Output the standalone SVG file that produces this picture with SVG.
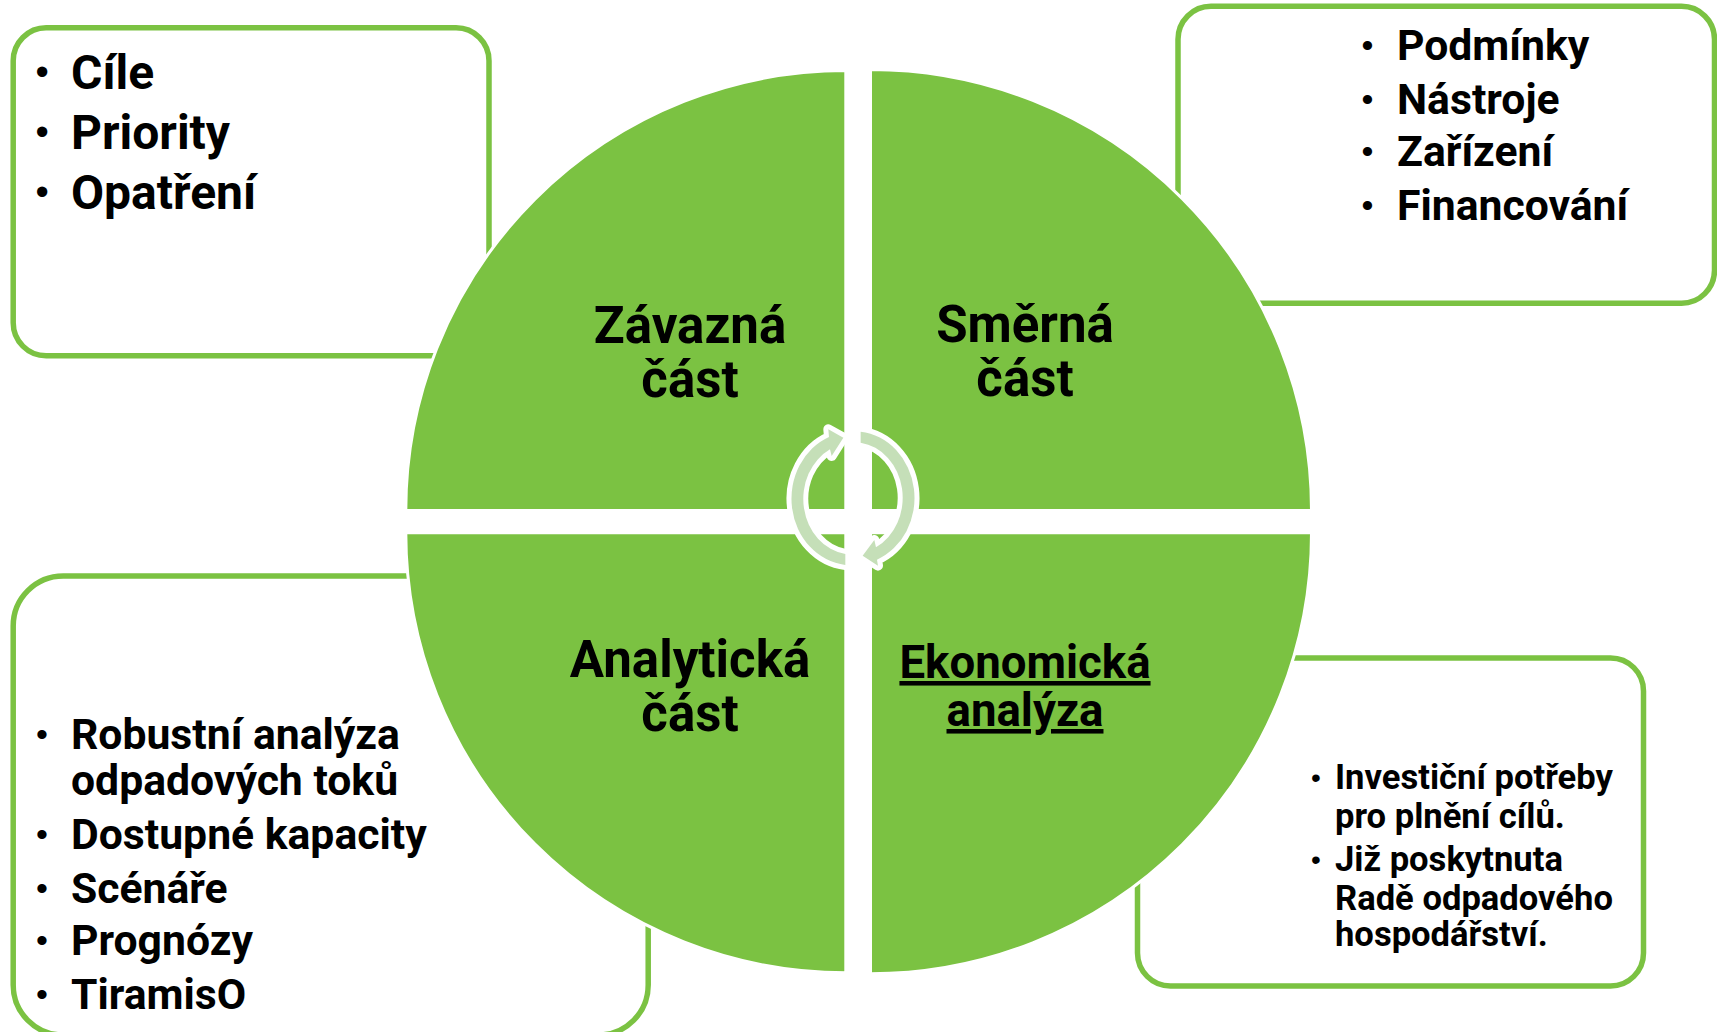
<svg xmlns="http://www.w3.org/2000/svg" width="1717" height="1032" viewBox="0 0 1717 1032">
<style>
text{font-family:Roboto,"Liberation Sans",sans-serif;font-weight:700;fill:#000}
.box{fill:#fff;stroke:#7bc242;stroke-width:5.5}
.quad{fill:#7bc242;stroke:#fff;stroke-width:3}
.b48{font-size:48px}.b42{font-size:42.7px}.b36{font-size:34.6px}
.c51{font-size:51px;text-anchor:middle}
.c46{font-size:45.6px;text-anchor:middle;text-decoration:underline}
.d48{font-size:38px}.d42{font-size:34px}.d36{font-size:28px}
.dot{font-family:"Liberation Sans",sans-serif;font-weight:400}
.arr{fill:#c5dfb8;stroke:#fff;stroke-width:30;paint-order:stroke;stroke-linejoin:round}
</style>
<rect width="1717" height="1032" fill="#fff"/>
<g id="box-cile">
<rect class="box" x="13.2" y="27.8" width="475.8" height="328" rx="33"/>
<text class="d48 dot" x="35.6" y="85">•</text><text class="b48" x="71" y="89">Cíle</text>
<text class="d48 dot" x="35.6" y="145">•</text><text class="b48" x="71" y="149">Priority</text>
<text class="d48 dot" x="35.6" y="205">•</text><text class="b48" x="71" y="209">Opatření</text>
</g>
<g id="box-podminky">
<rect class="box" x="1178" y="6.3" width="536.5" height="297" rx="33"/>
<text class="d42 dot" x="1361.6" y="57">•</text><text class="b42" x="1397" y="60">Podmínky</text>
<text class="d42 dot" x="1361.6" y="111">•</text><text class="b42" x="1397" y="114">Nástroje</text>
<text class="d42 dot" x="1361.6" y="163">•</text><text class="b42" x="1397" y="166">Zařízení</text>
<text class="d42 dot" x="1361.6" y="217">•</text><text class="b42" x="1397" y="220">Financování</text>
</g>
<g id="box-robustni">
<rect class="box" x="13.2" y="576" width="635" height="459" rx="50"/>
<text class="d42 dot" x="36" y="746">•</text><text class="b42" x="71" y="749">Robustní analýza</text>
<text class="b42" x="71" y="795">odpadových toků</text>
<text class="d42 dot" x="36" y="846">•</text><text class="b42" x="71" y="849">Dostupné kapacity</text>
<text class="d42 dot" x="36" y="900">•</text><text class="b42" x="71" y="903">Scénáře</text>
<text class="d42 dot" x="36" y="952">•</text><text class="b42" x="71" y="955">Prognózy</text>
<text class="d42 dot" x="36" y="1006">•</text><text class="b42" x="71" y="1009">TiramisO</text>
</g>
<g id="box-investicni">
<rect class="box" x="1137.5" y="658" width="506" height="328" rx="33"/>
<text class="d36 dot" x="1311" y="787">•</text><text class="b36" x="1335" y="789">Investiční potřeby</text>
<text class="b36" x="1335" y="828">pro plnění cílů.</text>
<text class="d36 dot" x="1311" y="869">•</text><text class="b36" x="1335" y="871">Již poskytnuta</text>
<text class="b36" x="1335" y="910">Radě odpadového</text>
<text class="b36" x="1335" y="946">hospodářství.</text>
</g>
<g id="quad-zavazna">
<path class="quad" d="M845.8,510.5 H405.8 A440,440 0 0 1 845.8,70.5 Z"/>
<text class="c51" x="690" y="343">Závazná</text><text class="c51" x="690" y="397">část</text>
</g>
<g id="quad-smerna">
<path class="quad" d="M870.5,510.5 V69.5 A441,441 0 0 1 1311.5,510.5 Z"/>
<text class="c51" x="1025" y="342">Směrná</text><text class="c51" x="1025" y="396">část</text>
</g>
<g id="quad-analyticka">
<path class="quad" d="M845.8,532.8 V972.8 A440,440 0 0 1 405.8,532.8 Z"/>
<text class="c51" x="690" y="677">Analytická</text><text class="c51" x="690" y="731">část</text>
</g>
<g id="quad-ekonomicka">
<path class="quad" d="M870.5,532.8 H1311.5 A441,441 0 0 1 870.5,973.8 Z"/>
<text class="c46" x="1025" y="678">Ekonomická</text>
<text class="c46" x="1025" y="726">analýza</text>
</g>
<g id="connectors" transform="translate(760 400) scale(.3333)">
<path class="arr" d="M302,95 A181,200 0 0 1 351,479 L354,497 L308,467 L343,420 L348,442 A147,167 0 0 0 302,128 Z"/>
<path class="arr" d="M256,495 A181,200 0 0 1 207,111 L205,88 L250,113 L215,168 L210,148 A147,167 0 0 0 256,462 Z"/>
</g>
</svg>
